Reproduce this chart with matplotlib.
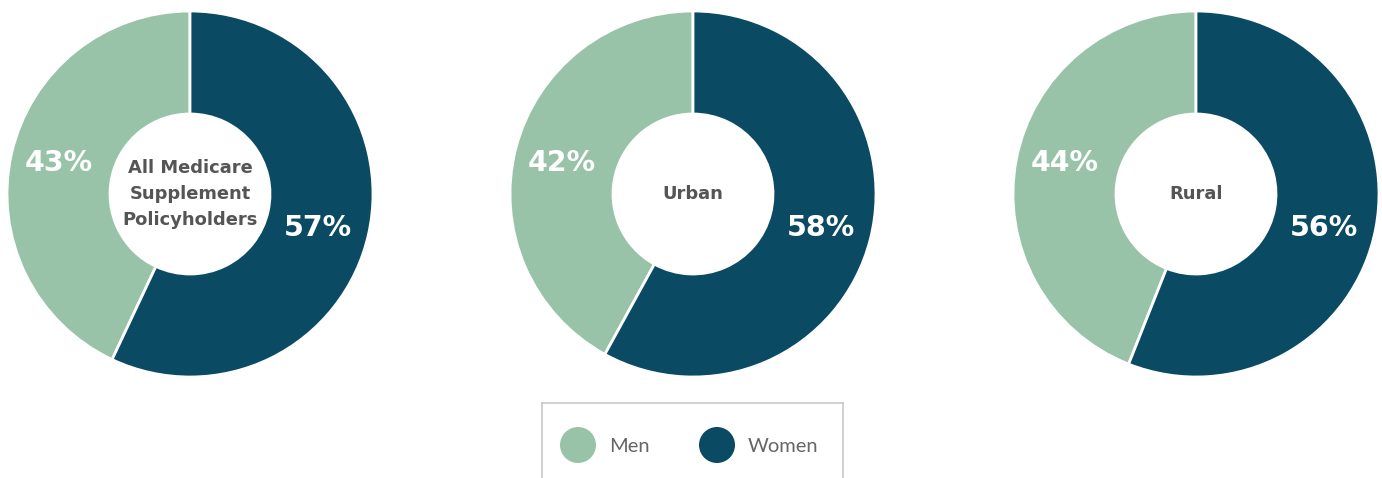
import matplotlib
matplotlib.use("Agg")
import matplotlib.pyplot as plt
import numpy as np

# ---- data ----
groups = ["All Medicare\nSupplement\nPolicyholders", "Urban", "Rural"]
men = [43, 42, 44]
women = [57, 58, 56]
series_labels = ["Men", "Women"]
colors = ["#98C3A8", "#0A4A63"]

W, H = 1382, 478
DPI = 100
fig = plt.figure(figsize=(W / DPI, H / DPI), dpi=DPI)
plt.rcParams['font.family'] = ['Lato', 'DejaVu Sans']
BOLD = ['DejaVu Sans']

centers_x = [190, 693, 1196]
center_y = 194
R = 183
# label anchor positions (unit radius) for Men / Women
label_pos = [(-0.715, 0.17), (0.70, -0.185)]

def px_axes(x0, y0, w, h):
    return fig.add_axes([x0 / W, (H - y0 - h) / H, w / W, h / H])

for i, (g, m, wv) in enumerate(zip(groups, men, women)):
    cx = centers_x[i]
    ax = px_axes(cx - R, center_y - R, 2 * R, 2 * R)
    vals = [m, wv]
    wedges, _ = ax.pie(vals, colors=colors, startangle=90, counterclock=True,
                       radius=1.0,
                       wedgeprops=dict(width=1 - 80 / R, edgecolor="white", linewidth=2))
    ax.set_xlim(-1, 1)
    ax.set_ylim(-1, 1)
    ax.set_aspect("equal")
    ax.axis("off")
    for (lx, ly), v in zip(label_pos, vals):
        ax.text(lx, ly, f"{v}%", ha="center", va="center", color="white",
                fontsize=20.5, fontweight="bold", family=BOLD)
    ax.text(0, 0, g, ha="center", va="center", color="#555555",
            fontsize=12.9, fontweight="bold", family=BOLD, linespacing=1.6)

# ---- legend ----
lx0, ly0, lw, lh = 542, 403, 301, 90
lax = px_axes(lx0, ly0, lw, lh)
lax.set_xlim(0, lw)
lax.set_ylim(lh, 0)
lax.set_xticks([])
lax.set_yticks([])
for s in lax.spines.values():
    s.set_color("#c8c8c8")
    s.set_linewidth(1.2)
marker_x = [36, 175]
text_x = [67, 206]
for mx, tx, lab, col in zip(marker_x, text_x, series_labels, colors):
    lax.scatter([mx], [42], s=(36 * 0.72) ** 2, color=col, edgecolors="none")
    lax.text(tx, 43, lab, ha="left", va="center", color="#666666", fontsize=14.5)

fig.savefig("out.png", dpi=DPI)
